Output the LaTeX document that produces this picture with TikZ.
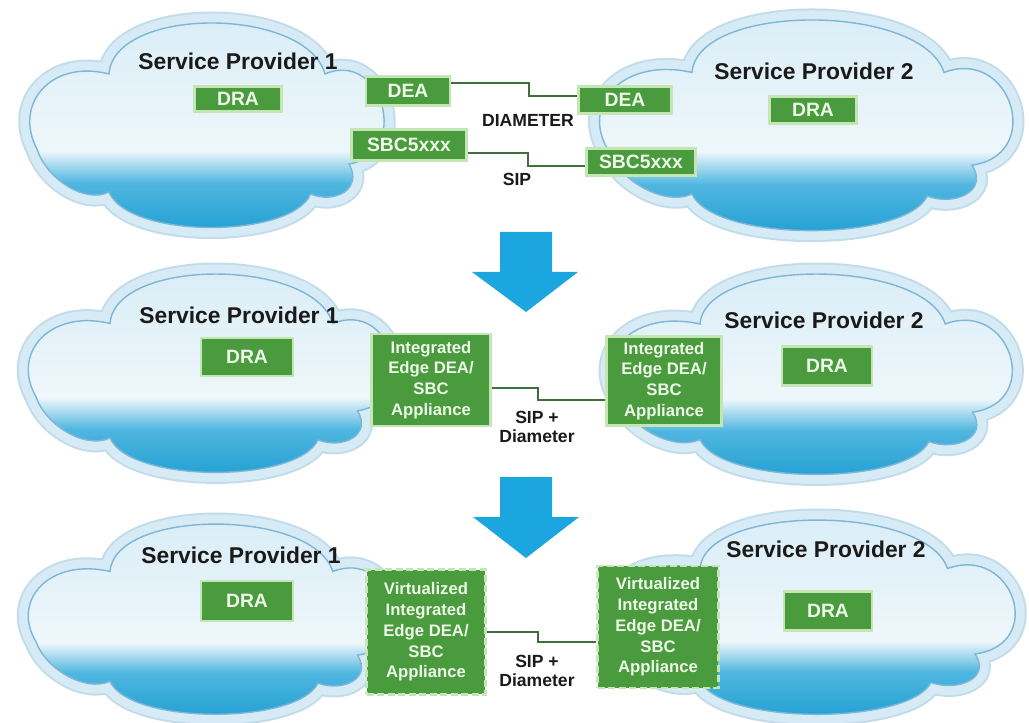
\documentclass[tikz,border=0pt]{standalone}
\usepackage{fontspec}
\setmainfont{Liberation Sans}

\definecolor{cloudtop}{HTML}{D8ECF6}
\definecolor{cloudpale}{HTML}{EEF7FB}
\definecolor{cloudmid}{HTML}{4FB6E0}
\definecolor{cloudblue}{HTML}{1C9DD1}
\definecolor{cloudline}{HTML}{7DB6D6}
\definecolor{cloudhalo}{HTML}{D6EBF6}
\definecolor{cloudrim}{HTML}{C2DCEA}
\definecolor{boxgreen}{HTML}{4A9B3E}
\definecolor{boxedge}{HTML}{C4E6B4}
\definecolor{boxtext}{HTML}{EEF8E8}
\definecolor{linkgreen}{HTML}{3F6F3B}
\definecolor{arrowblue}{HTML}{1CA6DF}
\definecolor{titleblack}{HTML}{1A1A1A}

\pgfdeclareverticalshading{cloudshade}{100bp}{color(0bp)=(cloudblue);
    color(25bp)=(cloudblue); color(37bp)=(cloudmid); color(44bp)=(cloudpale);
    color(75bp)=(cloudtop); color(100bp)=(cloudtop)}

\begin{document}
\begin{tikzpicture}[
	y=-0.02cm,
	x=0.02cm,
	box/.style={draw=boxedge, line width=1.6pt, fill=boxgreen, text=boxtext,
		inner sep=0pt, align=center, font=\bfseries\fontsize{11}{13}\selectfont},
	edgebox/.style={box, font=\bfseries\fontsize{9.5}{11.8}\selectfont},
	virtbox/.style={edgebox, dash pattern=on 4pt off 2pt},
	link/.style={draw=linkgreen, line width=1.2pt},
	sptitle/.style={text=titleblack, font=\bfseries\fontsize{13}{15}\selectfont},
	linklabel/.style={text=titleblack, align=center,
		font=\bfseries\fontsize{10}{10.5}\selectfont},
	cloudbody/.style={shading=cloudshade, draw=cloudline, line width=.8pt,
		preaction={draw=cloudrim, line width=.46cm},
		preaction={draw=cloudhalo, line width=.38cm}}] {

\def\cloud{(-175,25) .. controls (-200,-20) and (-160,-65) .. (-100,-50)
    .. controls (-95,-118) and (105,-118) .. (125,-50)
    .. controls (185,-75) and (215,30) .. (150,40)
    .. controls (165,65) and (135,80) .. (110,70)
    .. controls (90,115) and (-80,115) .. (-100,68)
    .. controls (-125,80) and (-165,55) .. (-175,25) -- cycle}

\fill[white] (0,0) rectangle (1029,723);
\useasboundingbox (0,0) rectangle (1029,723);

% clouds of the three rows
\path[cloudbody, shift={(205,124)}, xscale=.96] \cloud;
\path[cloudbody, shift={(804,124)}, xscale=1.12, yscale=1.03] \cloud;
\path[cloudbody, shift={(209,372)}, xscale=.99, yscale=.97] \cloud;
\path[cloudbody, shift={(809,373)}, xscale=1.09, yscale=.98] \cloud;
\path[cloudbody, shift={(209,618)}, xscale=.99, yscale=.93] \cloud;
\path[cloudbody, shift={(810,616)}, xscale=1.1, yscale=.95] \cloud;

% first row (separate DEA and SBC)
\node[sptitle] (title1L) at (238,61) {Service Provider 1};
\node[box, minimum width=1.74cm, minimum height=.5cm] (dra1L) at (238,99) {DRA};
\node[box, minimum width=1.68cm, minimum height=.58cm] (dea1L) at (408,91) {DEA};
\node[box, minimum width=2.3cm, minimum height=.62cm] (sbc1L) at (409,145) {SBC5xxx};
\node[box, minimum width=1.86cm, minimum height=.54cm] (dea1R) at (625,100) {DEA};
\node[box, minimum width=2.18cm, minimum height=.54cm] (sbc1R) at (641,162) {SBC5xxx};
\node[sptitle] (title1R) at (814,71) {Service Provider 2};
\node[box, minimum width=1.74cm, minimum height=.54cm] (dra1R) at (813,110) {DRA};

\draw[link] ([yshift=.16cm]dea1L.east) -- ++(78,0) |- ([yshift=.08cm]dea1R.west);
\draw[link] ([yshift=-.16cm]sbc1L.east) -- ++(60,0) |- ([yshift=-.08cm]sbc1R.west);
\node[linklabel] (diam1) at (528,120) {DIAMETER};
\node[linklabel] (sip1) at (517,179) {SIP};

% arrows between the rows
\path[fill=arrowblue] (500,232) -- (552,232) -- (552,272) -- (578,272)
    -- (526,312) -- (472,272) -- (500,272) -- cycle;
\path[fill=arrowblue] (500,477) -- (552,477) -- (552,517) -- (579,517)
    -- (526,558) -- (473,517) -- (500,517) -- cycle;

% second row (integrated appliance)
\node[sptitle] (title2L) at (239,315) {Service Provider 1};
\node[box, minimum width=1.84cm, minimum height=.76cm] (dra2L) at (247,357) {DRA};
\node[edgebox, minimum width=2.38cm, minimum height=1.84cm] (edge2L) at (431,380)
    {Integrated\\Edge DEA/\\SBC\\Appliance};
\node[edgebox, minimum width=2.3cm, minimum height=1.78cm] (edge2R) at (664,381)
    {Integrated\\Edge DEA/\\SBC\\Appliance};
\node[sptitle] (title2R) at (824,320) {Service Provider 2};
\node[box, minimum width=1.8cm, minimum height=.78cm] (dra2R) at (827,366) {DRA};

\draw[link] ([yshift=-.16cm]edge2L.east) -- ++(46,0) |- ([yshift=-.38cm]edge2R.west);
\node[linklabel] (sipdiam2) at (537,427) {SIP +\\Diameter};

% third row (virtualized appliance)
\node[sptitle] (title3L) at (241,555) {Service Provider 1};
\node[box, minimum width=1.84cm, minimum height=.8cm] (dra3L) at (247,601) {DRA};
\node[virtbox, minimum width=2.38cm, minimum height=2.5cm] (virt3L) at (426,632)
    {Virtualized\\Integrated\\Edge DEA/\\SBC\\Appliance};
\node[virtbox, minimum width=2.42cm, minimum height=2.44cm] (virt3R) at (658,627)
    {Virtualized\\Integrated\\Edge DEA/\\SBC\\Appliance};
\node[sptitle] (title3R) at (826,549) {Service Provider 2};
\node[box, minimum width=1.76cm, minimum height=.78cm] (dra3R) at (828,611) {DRA};

\draw[link] (virt3L.east) -- ++(51,0) |- ([yshift=-.3cm]virt3R.west);
\node[linklabel] (sipdiam3) at (537,671) {SIP +\\Diameter};
}\end{tikzpicture}
\end{document}
